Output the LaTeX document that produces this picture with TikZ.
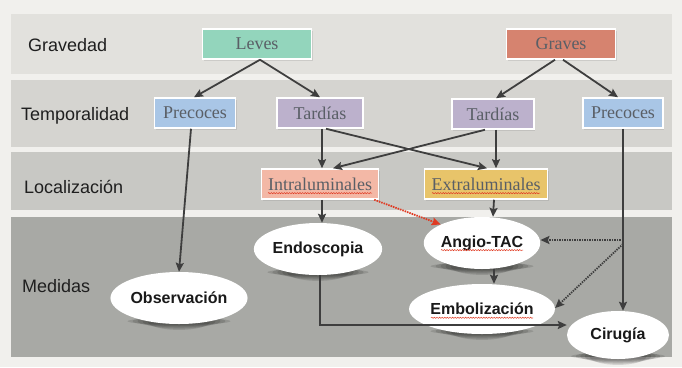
\documentclass[tikz,border=0pt]{standalone}
\usepackage{fontspec}
\setmainfont{Liberation Serif}
\setsansfont{Liberation Sans}
\usetikzlibrary{shapes.geometric,shadows,arrows.meta,decorations.pathmorphing}
\definecolor{pagebg}{HTML}{F1F0ED}
\definecolor{bandA}{HTML}{E2E1DD}
\definecolor{bandB}{HTML}{D5D4D0}
\definecolor{bandC}{HTML}{C8C8C4}
\definecolor{bandD}{HTML}{A8A9A5}
\definecolor{levesc}{HTML}{93D5BC}
\definecolor{gravesc}{HTML}{D6836F}
\definecolor{precc}{HTML}{A9C6E6}
\definecolor{tardc}{HTML}{BCB1CC}
\definecolor{intrac}{HTML}{F3B8A6}
\definecolor{extrac}{HTML}{E8C46A}
\definecolor{linec}{HTML}{3E3E3E}
\definecolor{boxtext}{HTML}{5A5F66}
\definecolor{redc}{HTML}{E03A22}
\pgfdeclarelayer{bandlayer}
\pgfdeclarelayer{shadowlayer}
\pgfsetlayers{bandlayer,shadowlayer,main}
\begin{document}
\begin{tikzpicture}[x=1pt,y=-1pt,
  box/.style={draw=white, line width=1.5pt, inner sep=0pt, minimum height=30pt,
    text=boxtext, font=\fontsize{18}{20}\selectfont,
    drop shadow={opacity=0.22, shadow xshift=1pt, shadow yshift=-2pt}},
  oval/.style={ellipse, fill=white, inner sep=0pt, text=black!90,
    font=\sffamily\bfseries\fontsize{16}{18}\selectfont},
  rowlabel/.style={anchor=west, text=black!88, font=\sffamily\fontsize{18}{20}\selectfont, inner sep=0pt},
  arr/.style={draw=linec, line width=1.8pt, -{Stealth[length=9pt,width=8pt,inset=1.5pt]}},
  dotarr/.style={arr, dash pattern=on 1.4pt off 1.1pt},
  redarr/.style={draw=redc, fill=redc, line width=1.8pt, dash pattern=on 1.4pt off 1.1pt,
    -{Stealth[length=9pt,width=8pt,inset=1.5pt]}},
  squig/.style={draw=redc, line width=0.5pt, decorate,
    decoration={snake, amplitude=0.6pt, segment length=2.6pt}}
]
\begin{pgfonlayer}{bandlayer}
\useasboundingbox (0,0) rectangle (682,367);
\fill[pagebg] (0,0) rectangle (682,367);
\fill[bandA] (11,14) rectangle (672,74);
\fill[bandB] (11,80) rectangle (672,147);
\fill[bandC] (11,152) rectangle (672,210);
\fill[bandD] (11,217) rectangle (672,357);
\end{pgfonlayer}

% row labels
\node[rowlabel] (lgrav) at (28,45) {Gravedad};
\node[rowlabel] (ltemp) at (21,116) {Temporalidad};
\node[rowlabel] (lloc) at (24,187) {Localización};
\node[rowlabel] (lmed) at (22,286) {Medidas};

% boxes
\node[box, fill=levesc, minimum width=109pt] (leves) at (257,44) {Leves};
\node[box, fill=gravesc, minimum width=109pt] (graves) at (561,44) {Graves};
\node[box, fill=precc, minimum width=81pt] (prec1) at (195,113) {Precoces};
\node[box, fill=tardc, minimum width=86pt] (tard1) at (320,113) {Tardías};
\node[box, fill=tardc, minimum width=82pt] (tard2) at (493,114) {Tardías};
\node[box, fill=precc, minimum width=80pt] (prec2) at (623,113) {Precoces};
\node[box, fill=intrac, minimum width=117pt] (intra) at (320,184) {Intraluminales};
\node[box, fill=extrac, minimum width=123pt] (extra) at (486,184) {Extraluminales};

% ellipses
\node[oval, minimum width=112pt, minimum height=52pt] (obs) at (179,298) {Observación};
\node[oval, minimum width=110pt, minimum height=52pt] (endo) at (318,249) {Endoscopia};
\node[oval, minimum width=112pt, minimum height=52pt] (angio) at (482,243) {Angio-TAC};
\node[oval, minimum width=112pt, minimum height=50pt] (embo) at (482,309) {Embolización};
\node[oval, minimum width=102pt, minimum height=48pt] (ciru) at (618,335) {Cirugía};

% soft shadows under the ellipses
\begin{pgfonlayer}{shadowlayer}
\foreach \n/\rx in {obs/56, endo/55, angio/56, embo/56, ciru/51}{
  \foreach \k in {0,...,4}{
    \fill[black, opacity=0.12] ([yshift=3pt]\n.south) ellipse [x radius={\rx*(0.92-0.09*\k)}, y radius={3.5+1.3*\k}];
  }
}
\end{pgfonlayer}

% spell-check underlines
\draw[squig] ([xshift=-52pt,yshift=-3pt]intra.base) -- ([xshift=52pt,yshift=-3pt]intra.base);
\draw[squig] ([xshift=-54pt,yshift=-3pt]extra.base) -- ([xshift=54pt,yshift=-3pt]extra.base);
\draw[squig] ([xshift=-41pt,yshift=-3pt]angio.base) -- ([xshift=41pt,yshift=-3pt]angio.base);
\draw[squig] ([xshift=-51pt,yshift=-3pt]embo.base) -- ([xshift=51pt,yshift=-3pt]embo.base);

% connectors level 1 -> 2
\draw[arr] ([xshift=3pt]leves.south) -- ([xshift=-1pt]prec1.north);
\draw[arr] ([xshift=3pt]leves.south) -- (tard1.north);
\draw[arr] ([xshift=-6pt]graves.south) -- ([xshift=3pt]tard2.north);
\draw[arr] ([xshift=2pt]graves.south) -- ([xshift=-5pt]prec2.north);

% level 2 -> 3/4
\draw[arr] ([xshift=-4pt]prec1.south) -- (obs.north);
\draw[arr] ([xshift=2pt]tard1.south) -- ([xshift=2pt]intra.north);
\draw[arr] ([xshift=6pt]tard1.south) -- ([xshift=1pt]extra.north);
\draw[arr] ([xshift=-8pt]tard2.south) -- ([xshift=13pt]intra.north);
\draw[arr] ([xshift=3pt]tard2.south) -- ([xshift=10pt]extra.north);
\draw[arr] (prec2.south) -- (prec2.south |- ciru.north);

% level 3 -> 4
\draw[arr] ([xshift=2pt]intra.south) -- ([xshift=4pt]endo.north);
\draw[redarr] ([xshift=-5pt]intra.south east) -- (angio.north west);
\draw[arr] ([xshift=8pt]extra.south) -- ([xshift=11pt]angio.north);
\draw[arr] ([xshift=12pt]angio.south) -- ([xshift=12pt]embo.north);

% dotted from surgery line
\coordinate (j1) at ([yshift=3pt]prec2.south |- angio.east);
\coordinate (j2) at ([yshift=-1pt]prec2.south |- angio.east);
\draw[dotarr] (j1) -- ([yshift=3pt]angio.east);
\draw[dotarr] (j2) -- ([yshift=1pt]embo.east);

% endoscopy -> cirugia
\coordinate (bend) at ([xshift=2pt]endo.south |- ciru.west);
\draw[arr] ([xshift=2pt]endo.south) -- ([yshift=10pt]bend) -- ([yshift=10pt]ciru.west);
\end{tikzpicture}
\end{document}
